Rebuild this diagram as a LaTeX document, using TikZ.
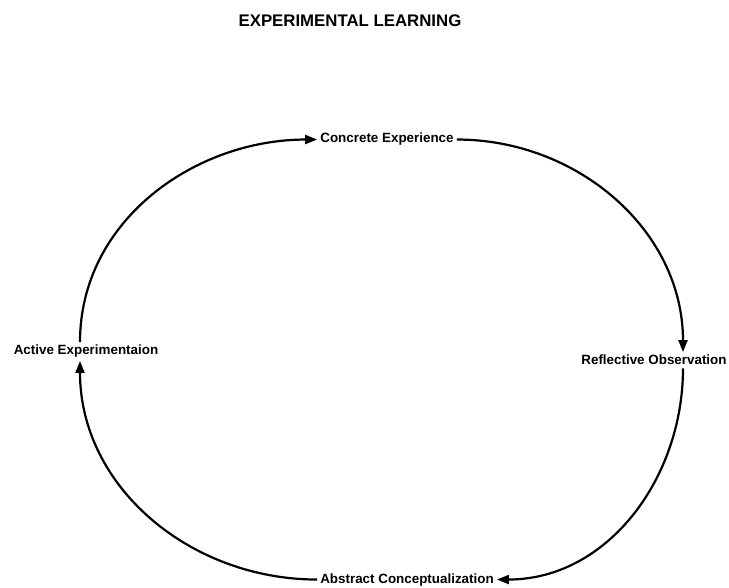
\documentclass[tikz,border=0pt]{standalone}
\usepackage{fontspec}
\setmainfont{Liberation Sans}
\usetikzlibrary{arrows.meta}

\begin{document}
\begin{tikzpicture}[
x=1pt, y=1pt,
stage/.style={font=\bfseries\fontsize{13.4}{16}\selectfont, inner sep=3pt, anchor=base},
arr/.style={-{Triangle[length=12pt,width=9pt]}, line width=2.2pt}
]
\useasboundingbox (0,0) rectangle (729,587);
\node[font=\bfseries\fontsize{16.8}{20}\selectfont, anchor=base] (title) at (350,560) {EXPERIMENTAL LEARNING};
\node[stage] (conc) at (387,444) {Concrete Experience};
\node[stage] (refl) at (654,222) {Reflective Observation};
\node[stage] (abs) at (407,4) {Abstract Conceptualization};
\node[stage] (act) at (86,232) {Active Experimentaion};

\draw[arr] ([xshift=-6pt]act.north) to[out=90, in=180] (conc.west);
\draw[arr] (conc.east) to[out=0, in=90] ([xshift=29pt]refl.north);
\draw[arr] ([xshift=29pt]refl.south) to[out=-90, in=0] (abs.east);
\draw[arr] (abs.west) to[out=180, in=-90] ([xshift=-6pt]act.south);
\end{tikzpicture}
\end{document}
